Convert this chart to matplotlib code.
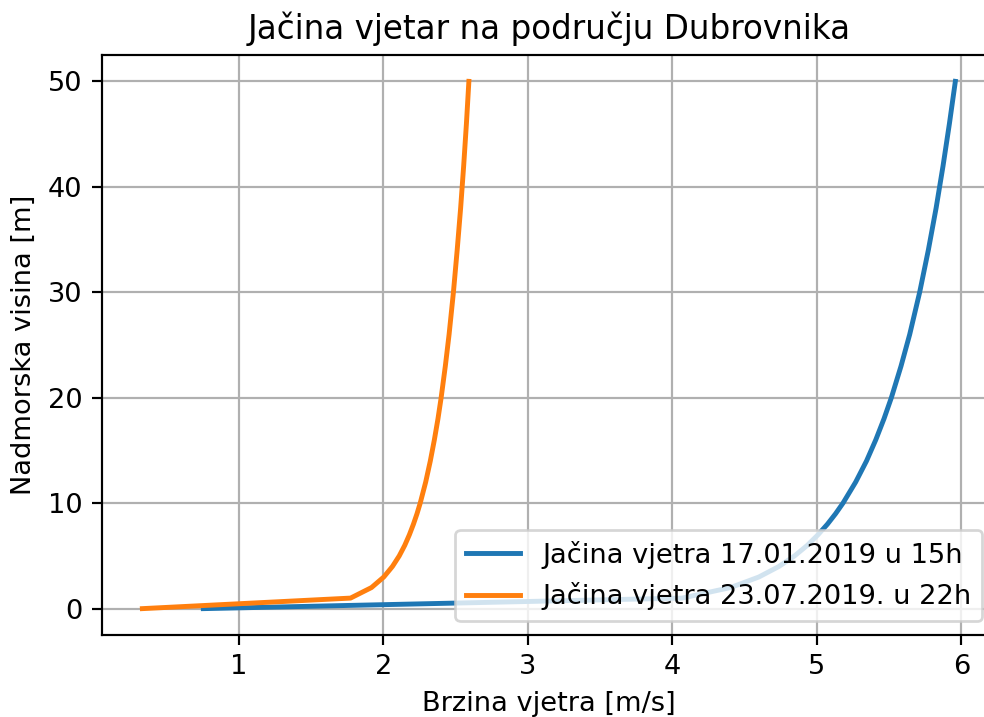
import matplotlib
matplotlib.use("Agg")
import matplotlib.pyplot as plt

DPI = 196

# heights [m]
visina = [0, 1, 2, 3, 4, 5, 6, 7, 8, 9, 10, 12, 14, 16, 18, 20, 23, 26, 30,
          34, 38, 42, 46, 50]

# wind speed [m/s]
brzina_jan = [0.753, 4.067, 4.402, 4.598, 4.737, 4.845, 4.933, 5.007, 5.072,
              5.129, 5.18, 5.268, 5.343, 5.407, 5.464, 5.515, 5.582, 5.642,
              5.711, 5.771, 5.825, 5.873, 5.917, 5.958]
brzina_jul = [0.331, 1.772, 1.917, 2.002, 2.062, 2.109, 2.147, 2.179, 2.207,
              2.232, 2.254, 2.292, 2.324, 2.352, 2.377, 2.399, 2.428, 2.454,
              2.484, 2.510, 2.534, 2.555, 2.574, 2.591]

fig = plt.figure(figsize=(984 / DPI, 717 / DPI), dpi=DPI)
ax = fig.add_axes([101.7 / 984, 82 / 717, 894.3 / 984, 580 / 717])

ax.plot(brzina_jan, visina, lw=1.8, label="Jačina vjetra 17.01.2019 u 15h")
ax.plot(brzina_jul, visina, lw=1.8, label="Jačina vjetra 23.07.2019. u 22h")

ax.set_xlabel("Brzina vjetra [m/s]")
ax.set_ylabel("Nadmorska visina [m]")
ax.set_title("Jačina vjetar na području Dubrovnika")
ax.legend(loc="lower right")
ax.grid(True)

fig.savefig("out.png", dpi=DPI)
